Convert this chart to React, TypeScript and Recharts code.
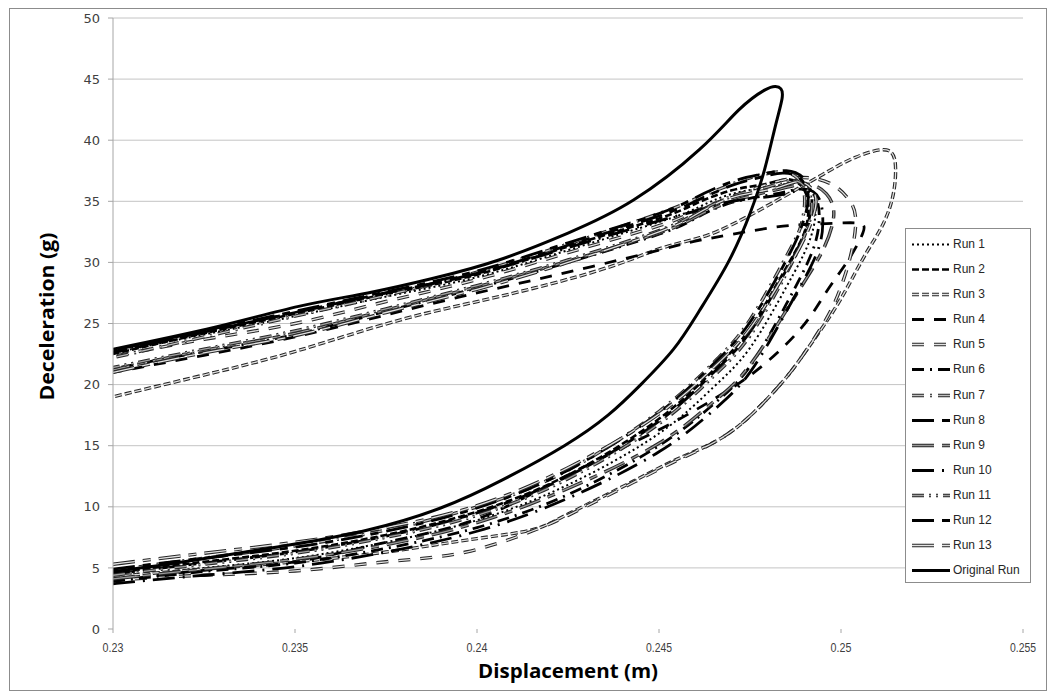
import React from "react";
import { LineChart, Line, XAxis, YAxis, CartesianGrid } from "recharts";

const xTicks = [0.23, 0.235, 0.24, 0.245, 0.25, 0.255];
const yTicks = [0, 5, 10, 15, 20, 25, 30, 35, 40, 45, 50];
const gridValues = [5, 10, 15, 20, 25, 30, 35, 40, 45, 50];

const seriesNames = [
  "Run 1", "Run 2", "Run 3", "Run 4", "Run 5", "Run 6", "Run 7",
  "Run 8", "Run 9", "Run 10", "Run 11", "Run 12", "Run 13", "Original Run",
];

type P = [number, number];

const run1: P[] = [[0.2300,4.2],[0.2325,5.0],[0.2350,5.8],[0.2375,7.1],[0.2400,8.9],[0.2425,11.8],[0.2450,16.0],[0.2465,19.8],[0.2475,23.0],[0.2485,28.0],[0.2491,31.5],[0.2493,34.0],[0.2492,35.8],[0.2488,36.5],[0.2481,36.2],[0.2470,35.6],[0.2460,34.4],[0.2450,33.3],[0.2425,31.0],[0.2400,28.8],[0.2375,27.2],[0.2350,25.6],[0.2325,24.1],[0.2300,22.6]];
const run2: P[] = [[0.2300,4.6],[0.2325,5.5],[0.2350,6.4],[0.2375,7.7],[0.2400,9.6],[0.2425,12.6],[0.2450,17.2],[0.2465,21.2],[0.2475,24.6],[0.2485,29.6],[0.2490,32.5],[0.2491,34.8],[0.2489,36.3],[0.2485,36.8],[0.2479,36.4],[0.2470,35.9],[0.2460,34.8],[0.2450,33.6],[0.2425,31.3],[0.2400,29.0],[0.2375,27.4],[0.2350,25.8],[0.2325,24.2],[0.2300,22.5]];
const run3: P[] = [[0.2300,4.3],[0.2325,4.9],[0.2350,5.5],[0.2375,6.3],[0.2400,7.4],[0.2415,8.1],[0.2425,9.4],[0.2443,12.1],[0.2455,13.9],[0.2467,15.6],[0.2477,18.0],[0.2485,20.6],[0.2490,22.6],[0.2497,25.6],[0.2502,28.1],[0.2507,30.8],[0.2511,32.8],[0.2514,35.1],[0.2515,37.6],[0.25125,39.2],[0.2504,38.6],[0.2495,37.2],[0.2474,33.7],[0.2461,32.0],[0.2450,31.1],[0.2434,29.4],[0.2406,27.2],[0.2379,25.3],[0.2351,22.8],[0.2328,21.0],[0.2300,19.0]];
const run4: P[] = [[0.2300,3.9],[0.2325,4.8],[0.2350,5.5],[0.2375,7.1],[0.2400,9.0],[0.2425,12.6],[0.2450,16.3],[0.2465,18.8],[0.2477,21.2],[0.2489,24.6],[0.2496,27.6],[0.2502,30.2],[0.2506,32.4],[0.2505,33.2],[0.2498,33.2],[0.2490,33.1],[0.2480,32.8],[0.2461,31.8],[0.2450,31.0],[0.2425,29.2],[0.2400,27.5],[0.2375,25.7],[0.2350,23.9],[0.2325,22.4],[0.2300,21.0]];
const run5: P[] = [[0.2300,4.0],[0.2325,4.4],[0.2350,4.75],[0.2375,5.5],[0.2397,6.3],[0.2415,8.0],[0.2425,9.3],[0.2443,12.0],[0.2455,13.8],[0.2467,15.6],[0.2477,18.0],[0.2485,20.6],[0.2490,22.6],[0.2496,25.4],[0.2500,28.0],[0.2503,31.0],[0.2504,33.7],[0.2502,35.2],[0.2498,36.3],[0.2492,36.9],[0.2485,36.8],[0.2475,35.9],[0.2460,34.2],[0.2450,33.0],[0.2425,30.8],[0.2400,28.6],[0.2375,26.8],[0.2350,25.0],[0.2325,23.7],[0.2300,22.3]];
const run6: P[] = [[0.2300,3.9],[0.2325,4.7],[0.2350,5.4],[0.2375,6.6],[0.2400,8.3],[0.2425,11.0],[0.2450,15.0],[0.2465,18.4],[0.2475,21.5],[0.2485,26.6],[0.2492,30.8],[0.2494,33.5],[0.2493,35.3],[0.2489,36.0],[0.2482,35.6],[0.2470,34.9],[0.2460,33.6],[0.2450,32.3],[0.2425,30.0],[0.2400,27.9],[0.2375,26.0],[0.2350,24.1],[0.2325,22.7],[0.2300,21.3]];
const run7: P[] = [[0.2300,4.8],[0.2325,5.8],[0.2350,6.8],[0.2375,8.1],[0.2400,10.0],[0.2425,13.0],[0.2450,17.8],[0.2465,21.8],[0.2475,25.3],[0.2485,30.5],[0.2489,33.0],[0.2490,35.3],[0.2488,36.9],[0.2483,37.4],[0.2476,37.0],[0.2470,36.4],[0.2460,35.2],[0.2450,34.0],[0.2425,31.5],[0.2400,29.2],[0.2375,27.3],[0.2350,25.6],[0.2325,23.9],[0.2300,22.2]];
const run8: P[] = [[0.2300,4.5],[0.2325,5.4],[0.2350,6.3],[0.2375,7.6],[0.2400,9.5],[0.2425,12.5],[0.2450,17.0],[0.2465,21.0],[0.2475,24.3],[0.2485,29.4],[0.2490,32.4],[0.2492,35.0],[0.2490,36.8],[0.2485,37.5],[0.2478,37.2],[0.2470,36.6],[0.2460,35.3],[0.2450,34.0],[0.2425,31.6],[0.2400,29.3],[0.2375,27.6],[0.2350,26.0],[0.2325,24.4],[0.2300,22.8]];
const run9: P[] = [[0.2300,4.1],[0.2325,4.9],[0.2350,5.7],[0.2375,6.9],[0.2400,8.7],[0.2425,11.5],[0.2450,15.2],[0.2465,18.6],[0.2475,21.6],[0.2488,27.5],[0.2495,31.0],[0.2498,33.8],[0.2496,35.6],[0.2491,36.4],[0.2483,36.0],[0.2470,35.0],[0.2460,33.7],[0.2450,32.4],[0.2425,30.1],[0.2400,28.0],[0.2375,26.1],[0.2350,24.2],[0.2325,22.8],[0.2300,21.2]];
const run10: P[] = [[0.2300,3.7],[0.2325,4.4],[0.2350,5.1],[0.2375,6.3],[0.2400,8.0],[0.2425,10.7],[0.2450,14.5],[0.2465,17.9],[0.2475,21.0],[0.2485,26.0],[0.2493,30.5],[0.2495,33.2],[0.2494,35.2],[0.2490,36.0],[0.2483,35.5],[0.2470,35.0],[0.2460,34.2],[0.2450,33.4],[0.2425,31.2],[0.2400,29.1],[0.2375,27.5],[0.2350,25.9],[0.2325,24.3],[0.2300,22.7]];
const run11: P[] = [[0.2300,4.4],[0.2325,5.3],[0.2350,6.2],[0.2375,7.5],[0.2400,9.3],[0.2425,12.3],[0.2450,16.8],[0.2465,20.7],[0.2475,24.0],[0.2485,29.1],[0.2490,32.2],[0.2492,34.6],[0.2490,36.2],[0.2486,36.7],[0.2479,36.1],[0.2470,35.4],[0.2460,34.0],[0.2450,32.6],[0.2425,30.2],[0.2400,28.1],[0.2375,26.2],[0.2350,24.4],[0.2325,22.9],[0.2300,21.4]];
const run12: P[] = [[0.2300,4.9],[0.2325,5.8],[0.2350,6.7],[0.2375,8.0],[0.2400,9.9],[0.2425,13.0],[0.2450,17.7],[0.2465,21.7],[0.2475,25.1],[0.2485,30.2],[0.2489,32.8],[0.2491,35.2],[0.2489,36.8],[0.2484,37.3],[0.2477,36.9],[0.2470,36.3],[0.2460,35.0],[0.2450,33.8],[0.2425,31.4],[0.2400,29.1],[0.2375,27.5],[0.2350,25.9],[0.2325,24.3],[0.2300,22.6]];
const run13: P[] = [[0.2300,5.3],[0.2325,6.2],[0.2350,7.1],[0.2375,8.3],[0.2400,10.1],[0.2425,13.2],[0.2450,17.6],[0.2465,21.4],[0.2475,24.6],[0.2485,29.3],[0.2490,32.0],[0.2493,34.5],[0.2492,36.0],[0.2488,36.6],[0.2481,36.0],[0.2470,35.3],[0.2460,33.9],[0.2450,32.5],[0.2425,30.0],[0.2400,27.8],[0.2375,25.9],[0.2350,24.0],[0.2325,22.6],[0.2300,21.0]];
const originalRun: P[] = [[0.2300,4.7],[0.2315,5.3],[0.2330,6.0],[0.2350,6.95],[0.2370,8.1],[0.2390,9.9],[0.2407,12.2],[0.2424,15.0],[0.2436,17.5],[0.2445,20.0],[0.2454,22.9],[0.2461,26.0],[0.2469,30.0],[0.2475,34.0],[0.2479,37.6],[0.2482,41.2],[0.24838,43.4],[0.24835,44.2],[0.2482,44.4],[0.2479,44.1],[0.2472,42.5],[0.2461,39.2],[0.2443,35.1],[0.2425,32.4],[0.2406,30.2],[0.2388,28.7],[0.2370,27.5],[0.2351,26.4],[0.2328,24.7],[0.2300,22.9]];

const seriesPoints: P[][] = [run1, run2, run3, run4, run5, run6, run7, run8, run9, run10, run11, run12, run13, originalRun];

type Style = { dash?: string; width: number; hollow?: string };
const seriesStyles: Style[] = [
  { dash: "2 3", width: 2 },
  { dash: "7 3", width: 2.6 },
  { dash: "7 3", width: 3.4, hollow: "#e2e2e2" },
  { dash: "12 10", width: 2.8 },
  { dash: "12 10", width: 3.4, hollow: "#e2e2e2" },
  { dash: "12 6 2 6", width: 2.8 },
  { dash: "12 6 2 6", width: 3.4, hollow: "#bdbdbd" },
  { dash: "22 8 8 8", width: 2.8 },
  { dash: "22 8 8 8", width: 3.4, hollow: "#999999" },
  { dash: "22 8 2 8", width: 2.8 },
  { dash: "12 5 2 5 2 5", width: 3.4, hollow: "#a0a0a0" },
  { dash: "22 8 8 8", width: 2.8 },
  { dash: "22 8 8 8", width: 3.4, hollow: "#e2e2e2" },
  { width: 3 },
];

const toData = (pts: P[]) => pts.map(([x, y]) => ({ x, y }));

const XTick = (props: any) => {
  const { x, y, payload } = props;
  const label = String(payload.value);
  return (
    <text x={x} y={y + 13} textAnchor="middle" fontSize={12} fontFamily="Liberation Sans"
      fill="#404040" textLength={label.length * 5.2} lengthAdjust="spacingAndGlyphs">
      {label}
    </text>
  );
};

const YTitle = (props: any) => {
  const vb = props.viewBox || { x: 20, y: 9, width: 83, height: 611 };
  const cx = vb.x + 17;
  const cy = vb.y + vb.height / 2 - 7;
  return (
    <text x={cx} y={cy} transform={`rotate(-90, ${cx}, ${cy})`} textAnchor="middle" dominantBaseline="central"
      fontSize={19} fontWeight="bold" fontFamily="Open Sans" fill="#000" textLength={168} lengthAdjust="spacingAndGlyphs">
      Deceleration (g)
    </text>
  );
};

const XTitle = (props: any) => {
  const vb = props.viewBox || { x: 103, y: 620, width: 910, height: 40 };
  const cx = vb.x + vb.width / 2;
  return (
    <text x={cx} y={vb.y + 49} textAnchor="middle" fontSize={19} fontWeight="bold" fontFamily="Open Sans"
      fill="#000" textLength={180} lengthAdjust="spacingAndGlyphs">
      Displacement (m)
    </text>
  );
};

const LegendBox = () => (
  <div style={{ position: "absolute", left: 895, top: 219, width: 126, height: 355, border: "1px solid #8c8c8c",
    boxSizing: "border-box", background: "#fff", paddingTop: 3 }}>
    {seriesNames.map((name, i) => {
      const s = seriesStyles[i];
      return (
        <div key={name} style={{ position: "relative", height: 25.1 }}>
          <svg width={40} height={25} style={{ position: "absolute", left: 6, top: 0 }}>
            <line x1={0} y1={12.5} x2={38} y2={12.5} stroke={s.hollow ? "#262626" : "#000"} strokeWidth={s.width}
              strokeDasharray={s.dash} />
            {s.hollow && (
              <line x1={0} y1={12.5} x2={38} y2={12.5} stroke={s.hollow} strokeWidth={1.3} strokeDasharray={s.dash} />
            )}
          </svg>
          <span style={{ position: "absolute", left: 47, top: 5, fontFamily: "Liberation Sans", fontSize: 12,
            color: "#262626", whiteSpace: "nowrap", lineHeight: "15px" }}>{name}</span>
        </div>
      );
    })}
  </div>
);

const gridGenerator = (p: any) => {
  const sc = p?.yAxis?.scale;
  if (typeof sc === "function") return gridValues.map((v) => sc(v));
  if (sc && typeof sc.map === "function") return gridValues.map((v) => sc.map(v));
  const off = p.offset;
  return gridValues.map((v) => off.top + off.height * (1 - v / 50));
};

export default function App() {
  const lines: React.ReactNode[] = [];
  seriesPoints.forEach((pts, i) => {
    const s = seriesStyles[i];
    const data = toData(pts);
    lines.push(
      <Line key={`${seriesNames[i]}-a`} data={data} dataKey="y" name={seriesNames[i]} type="natural"
        stroke={s.hollow ? "#262626" : "#000"} strokeWidth={s.width} strokeDasharray={s.dash}
        dot={false} activeDot={false} isAnimationActive={false} />
    );
    if (s.hollow) {
      lines.push(
        <Line key={`${seriesNames[i]}-b`} data={data} dataKey="y" name={`${seriesNames[i]} fill`} type="natural"
          stroke={s.hollow} strokeWidth={1.3} strokeDasharray={s.dash}
          dot={false} activeDot={false} isAnimationActive={false} />
      );
    }
  });

  return (
    <div style={{ position: "relative", width: 1038, height: 683, border: "1px solid #8c8c8c", boxSizing: "border-box",
      marginLeft: 1, background: "#fff" }}>
      <LineChart width={1036} height={681} margin={{ top: 9, right: 23, bottom: 21, left: 20 }}>
        <CartesianGrid vertical={false} stroke="#c4c4c4" horizontalCoordinatesGenerator={gridGenerator} />
        <XAxis type="number" dataKey="x" domain={[0.23, 0.255]} ticks={xTicks} allowDataOverflow
          axisLine={false} tickLine={{ stroke: "#a6a6a6" }} tickSize={4} tickMargin={6} height={40}
          tick={<XTick />} interval={0} label={<XTitle />} />
        <YAxis type="number" domain={[0, 50]} ticks={yTicks} allowDataOverflow width={83}
          axisLine={{ stroke: "#a6a6a6" }} tickLine={{ stroke: "#a6a6a6" }} tickSize={5} tickMargin={8}
          tick={{ fontSize: 13, fontFamily: "DejaVu Sans", fill: "#404040" }} interval={0} label={<YTitle />} />
        {lines}
      </LineChart>
      <LegendBox />
    </div>
  );
}
